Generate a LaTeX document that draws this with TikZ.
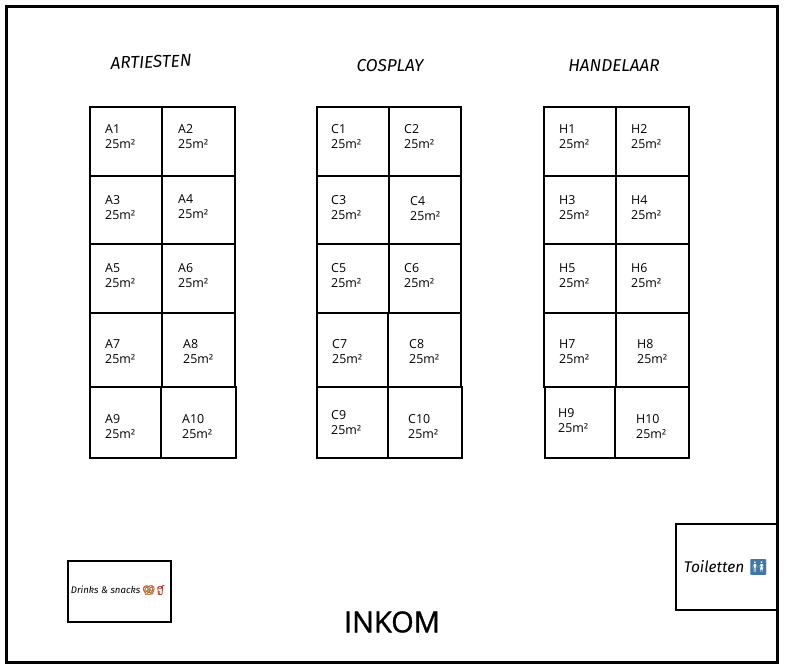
\documentclass[tikz,border=0pt]{standalone}
\usepackage{fontspec}
\setmainfont{Open Sans}
\newfontfamily\handfont{Fira Sans}
\newfontfamily\inkomfont{Open Sans}[FakeBold=1.2]
\newfontfamily\emojifont{Noto Emoji}[FakeBold=1.5]
\usepackage{xcolor}
\definecolor{pretzelc}{HTML}{B8601F}
\definecolor{cupc}{HTML}{B52A1E}
\definecolor{wcblue}{HTML}{3F78A8}
\begin{document}
\begin{tikzpicture}
    [
    x=1pt, y=-1pt
    , cell/.style = {draw=black,line width=1.8pt,inner sep=0pt,anchor=north west,xshift=-0.8pt,yshift=0.8pt}
    , stall/.style = {anchor=west,align=left,inner sep=0pt,yshift=-0.8pt,font=\fontsize{12.4}{14.5}\selectfont}
    , heading/.style = {inner sep=0pt,font=\fontsize{17.2}{20}\selectfont\handfont\itshape}
    ]
\useasboundingbox (0,0) rectangle (785,669);

\node[cell,line width=2.8pt,minimum width=771pt,minimum height=656pt] (hall) at (6,6) {};

\node[heading,rotate=2] (artiesten) at (151,62) {ARTIESTEN};
\node[heading] (cosplay) at (390,66) {COSPLAY};
\node[heading] (handelaar) at (614,66) {HANDELAAR};

% name/left/top/width/height/label x/label y/text
\foreach \n/\cx/\cy/\cw/\ch/\lx/\ly/\txt in {
    a1/90/107/72/69/105/136/A1, a2/162/107/73/69/178/136/A2,
    a3/90/176/72/68/105/207/A3, a4/162/176/73/68/178/206/A4,
    a5/90/244/72/69/105/275/A5, a6/162/244/73/69/178/275/A6,
    a7/90/313/72/74/105/351/A7, a8/162/313/73/74/183/351/A8,
    a9/90/387/71/71/105/426/A9, a10/161/387/75/71/182/426/A10,
    c1/317/107/72/69/331/136/C1, c2/389/107/72/69/404/136/C2,
    c3/317/176/72/68/331/207/C3, c4/389/176/72/68/410/208/C4,
    c5/317/244/72/69/331/275/C5, c6/389/244/72/69/404/275/C6,
    c7/317/313/71/74/332/351/C7, c8/388/313/73/74/409/351/C8,
    c9/317/387/71/71/331/422/C9, c10/388/387/74/71/408/426/C10,
    h1/544/107/72/69/559/136/H1, h2/616/107/73/69/631/136/H2,
    h3/544/176/72/68/559/207/H3, h4/616/176/73/68/631/207/H4,
    h5/544/244/72/69/559/275/H5, h6/616/244/73/69/631/275/H6,
    h7/544/313/72/74/559/351/H7, h8/616/313/73/74/637/351/H8,
    h9/545/387/70/71/558/420/H9, h10/615/387/74/71/636/426/H10}
{
    \node[cell,minimum width=\cw pt,minimum height=\ch pt] (\n) at (\cx,\cy) {};
    \node[stall] (\n-label) at (\lx,\ly) {\txt\\25m²};
}

\node[cell,minimum width=103pt,minimum height=61pt,line width=2.2pt] (drinks) at (68,561) {};
\node[inner sep=0pt,font=\fontsize{9.6}{11}\selectfont\handfont\itshape] (drinks-label) at (119,590)
    {Drinks \& snacks {\emojifont\color{pretzelc}🥨\color{cupc}🥤}};

\node[cell,minimum width=101pt,minimum height=86pt] (toilet) at (676,524) {};
\node[inner sep=0pt,font=\fontsize{15.5}{17}\selectfont\handfont\itshape] (toilet-label) at (726,567)
    {Toiletten {\emojifont\color{wcblue}🚻}};

\node[inner sep=0pt,font=\fontsize{29}{34}\selectfont\inkomfont] (inkom) at (392,622) {INKOM};
\end{tikzpicture}
\end{document}
